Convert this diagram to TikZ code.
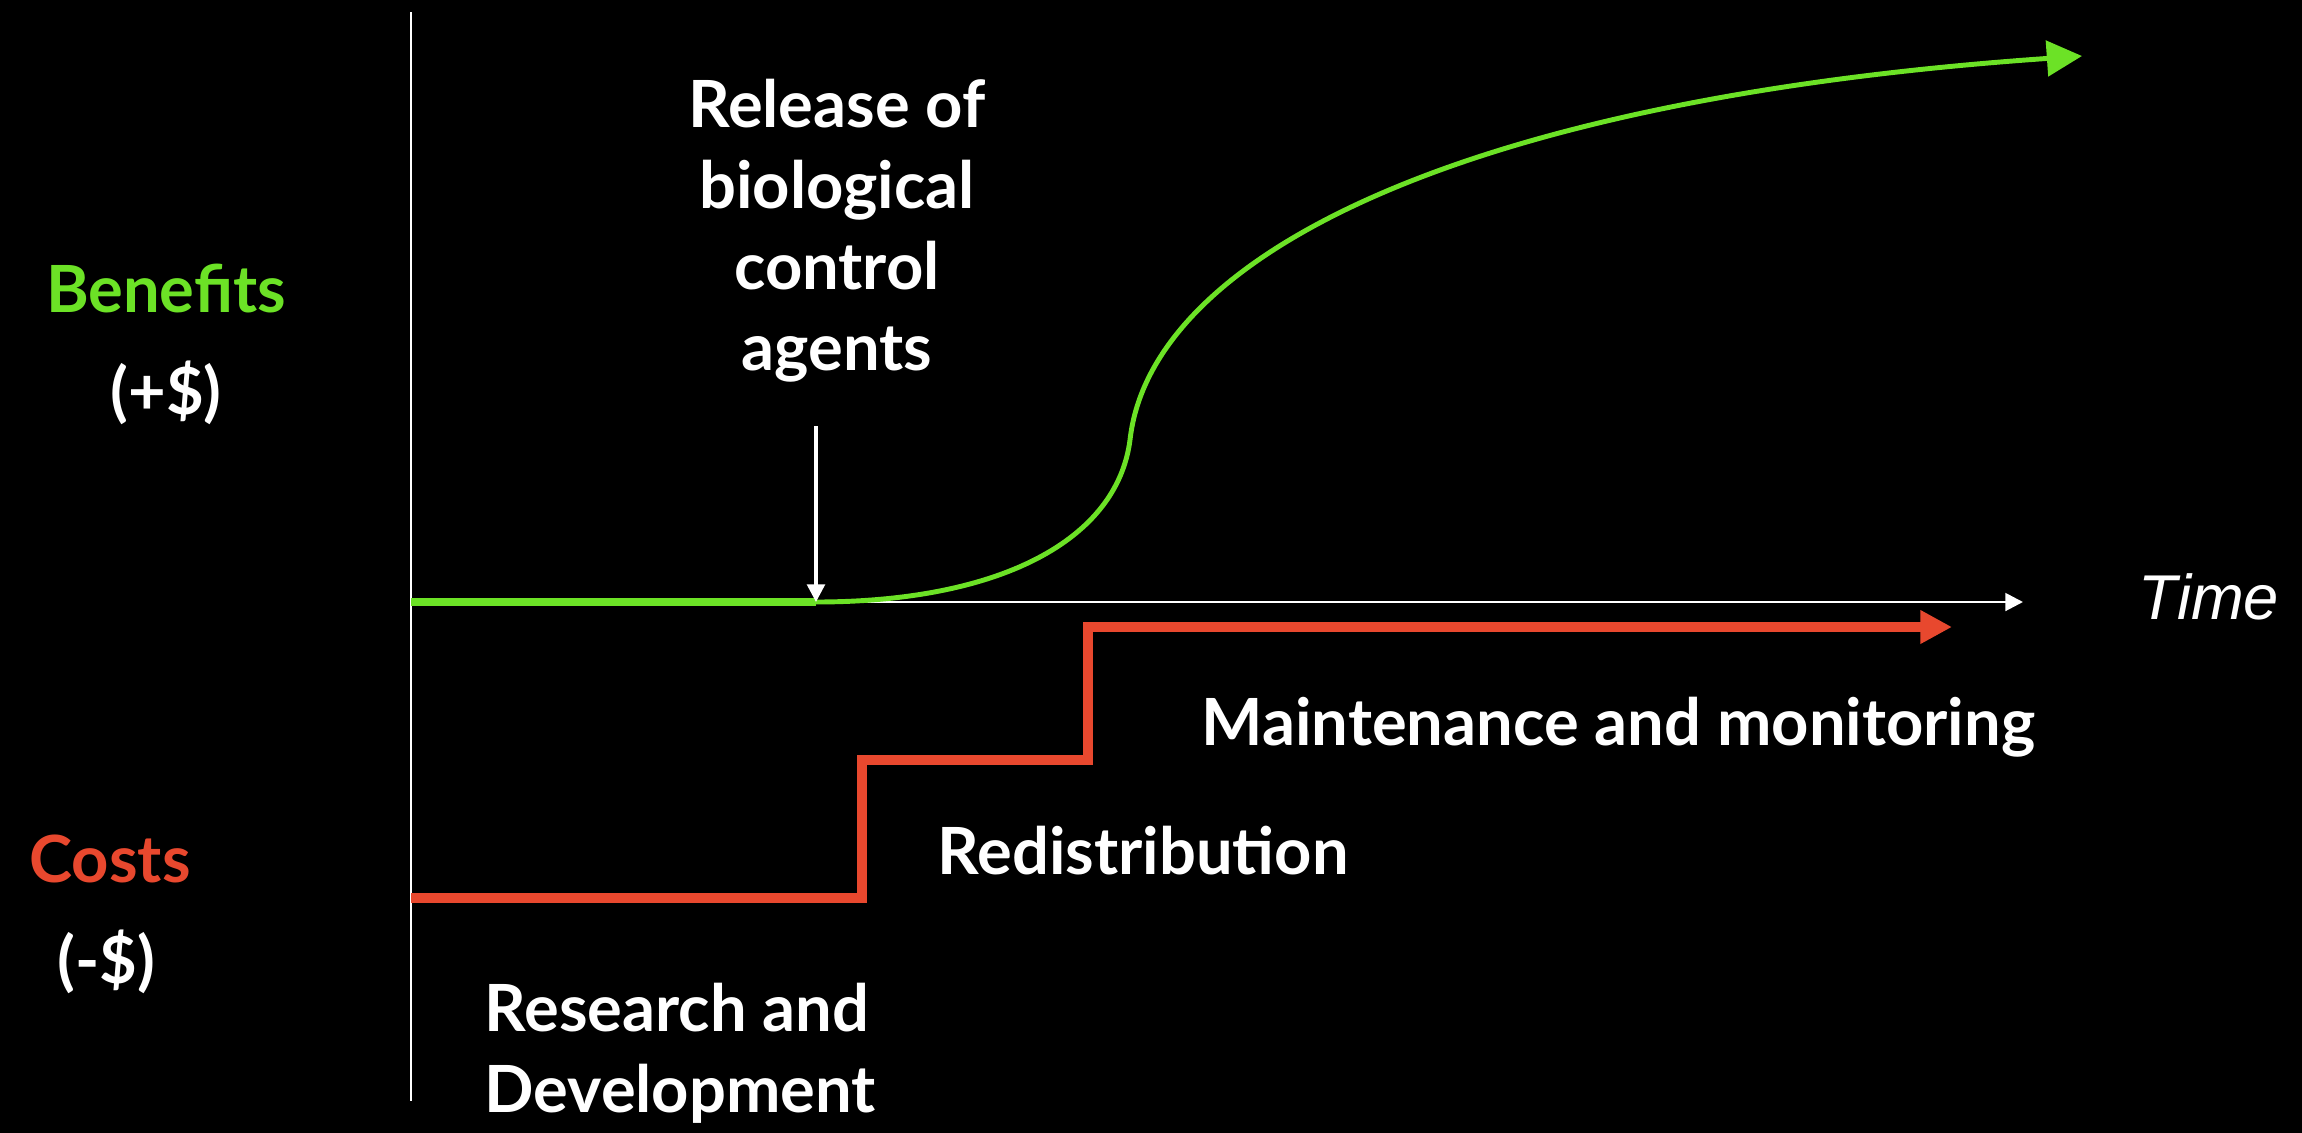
\documentclass[tikz,border=0pt]{standalone}
\usepackage{fontspec}
\setmainfont{Lato}
\newfontfamily\timefont{Liberation Sans}
\usepackage{tikz}
\usetikzlibrary{arrows.meta}
\definecolor{bengreen}{RGB}{108,226,38}
\definecolor{costred}{RGB}{232,72,46}

\begin{document}
\begin{tikzpicture}[
        x=0.01cm, y=-0.01cm,
        label/.style={
            text=white, inner sep=0pt,
            align=center,
            font=\fontsize{18.5}{23}\selectfont\bfseries
        },
        axis/.style={white, line width=0.8pt},
        benefit/.style={bengreen, line width=1.4pt},
        cost/.style={costred, line width=2.6pt, line join=miter},
        tip/.style={-{Triangle[length=#1, width=#1]}}
    ]

    \fill[black] (0,0) rectangle (2302,1133);

    % axes
    \coordinate (origin) at (411,602);
    \coordinate (ytop) at (411,12);
    \coordinate (ybot) at (411,1101);
    \coordinate (xend) at (2023,602);
    \draw[axis] (ytop) -- (ybot);
    \draw[axis, tip=5pt] (origin) -- (xend);
    \node[label, font=\fontsize{18}{22}\timefont\itshape] (time) at (2209,597) {Time};

    % side labels
    \node[label, text=bengreen] (benefits) at (166,289) {Benefits};
    \node[label] (plus) at (166,393) {(+\$)};
    \node[label, text=costred] (costs) at (110,859) {Costs};
    \node[label] (minus) at (106,962) {(-\$)};

    % benefits curve
    \coordinate (release) at (816,602);
    \coordinate (bend) at (1130,440);
    \coordinate (bentip) at (2082,56);
    \draw[benefit, line width=2.2pt] (origin) -- (release);
    \draw[benefit, tip=10pt] (release)
        .. controls (1000,602) and (1117,540) .. (bend)
        .. controls (1150,260) and (1450,100) .. (bentip);

    \node[label] (agents) at (837,231)
        {Release of\\biological\\control\\agents};
    \coordinate (arrtop) at (816,426);
    \draw[white, line width=1pt, tip=5pt] (arrtop) -- (release);

    % costs steps
    \coordinate (c0) at (411,898);
    \coordinate (c1) at (862,898);
    \coordinate (c2) at (862,760);
    \coordinate (c3) at (1088,760);
    \coordinate (c4) at (1088,627);
    \coordinate (costtip) at (1952,627);
    \draw[cost, tip=9pt] (c0) -- (c1) -- (c2) -- (c3) -- (c4) -- (costtip);

    \node[label, anchor=west] (maint) at (1201,727) {Maintenance and monitoring};
    \node[label, anchor=west] (redist) at (937,851) {Redistribution};
    \node[label, align=left, anchor=west] (research) at (484,1053)
        {Research and\\Development};

\end{tikzpicture}
\end{document}
